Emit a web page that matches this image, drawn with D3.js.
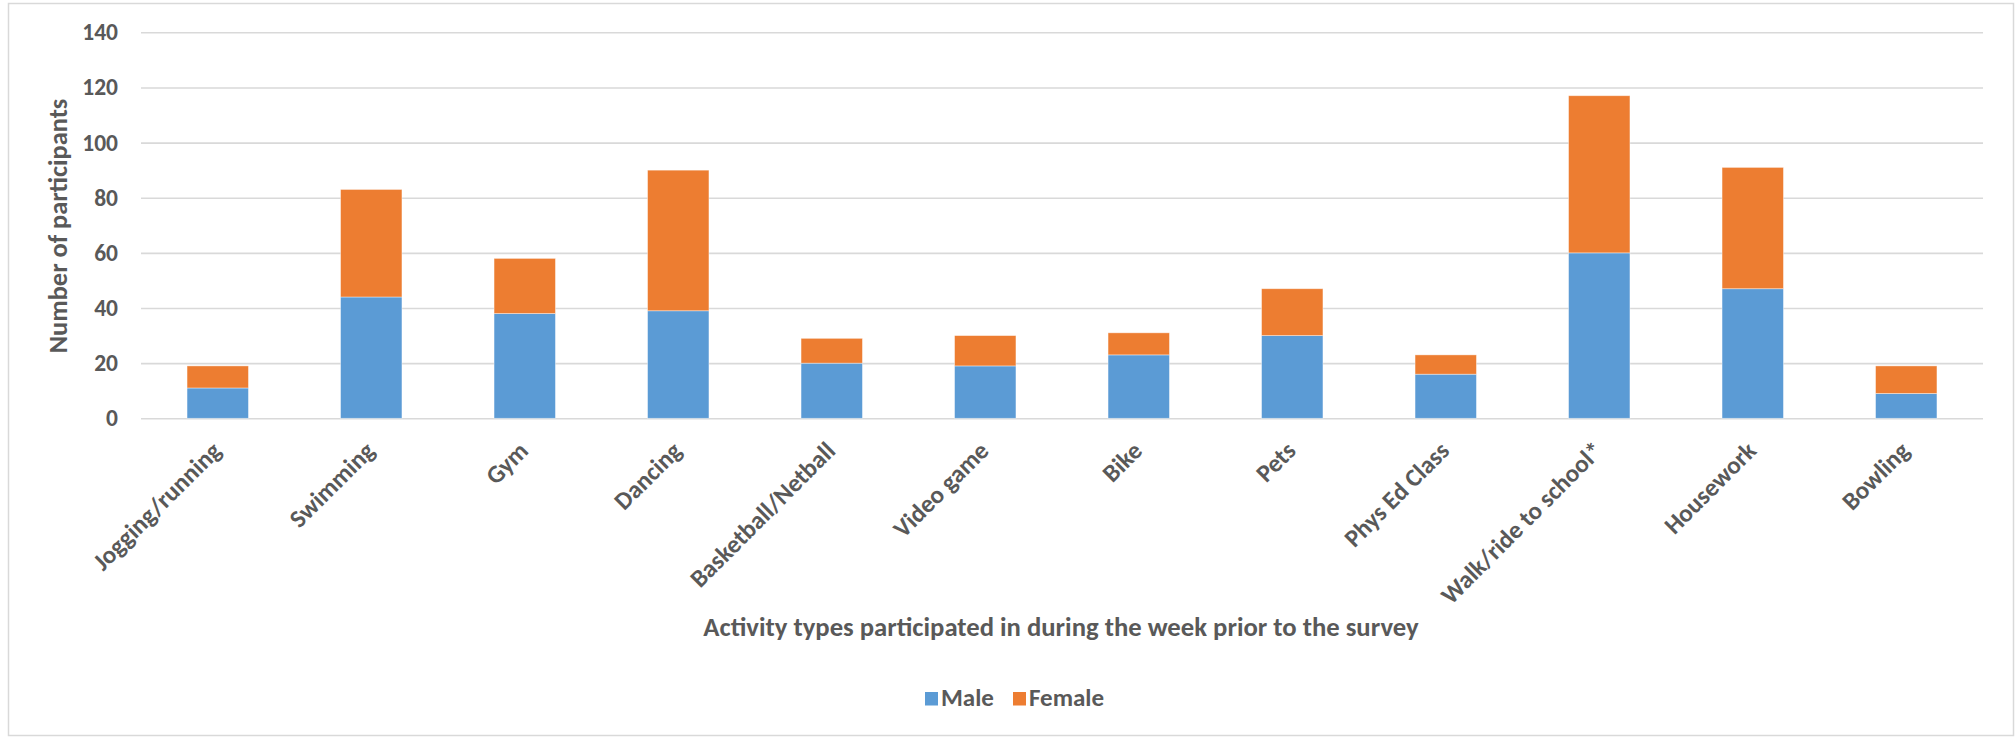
<!DOCTYPE html>
<html>
<head>
<meta charset="utf-8">
<script src="https://cdn.jsdelivr.net/npm/d3@7"></script>
<style>
  html, body { margin: 0; padding: 0; background: #fff; }
  svg { display: block; }
  text { font-family: Carlito, Calibri, Lato, sans-serif; fill: #595959; font-weight: bold; }
</style>
</head>
<body>
<svg id="chart" width="2016" height="737"></svg>
<script>
// Activity categories and participant counts by sex
const categories = ["Jogging/running", "Swimming", "Gym", "Dancing", "Basketball/Netball",
  "Video game", "Bike", "Pets", "Phys Ed Class", "Walk/ride to school*", "Housework", "Bowling"];
const male   = [11, 44, 38, 39, 20, 19, 23, 30, 16, 60, 47, 9];
const female = [8, 39, 20, 51, 9, 11, 8, 17, 7, 57, 44, 10];
const seriesNames = ["Male", "Female"];
const seriesColors = ["#5B9BD5", "#ED7D31"];
const yTicks = [0, 20, 40, 60, 80, 100, 120, 140];
const yTitle = "Number of participants";
const xTitle = "Activity types participated in during the week prior to the survey";

const plot = { left: 141, right: 1983, top: 32.3, bottom: 418.3 };

const svg = d3.select("#chart");

// outer chart frame
svg.append("rect")
  .attr("x", 8.5).attr("y", 3.5)
  .attr("width", 2005).attr("height", 732)
  .attr("fill", "#fff").attr("stroke", "#d9d9d9").attr("stroke-width", 1.5);

const x = d3.scaleBand().domain(categories)
  .range([plot.left, plot.right])
  .paddingInner(0.6).paddingOuter(0.3);
const y = d3.scaleLinear().domain([0, 140]).range([plot.bottom, plot.top]);

// value axis with gridlines
const yAxis = svg.append("g")
  .attr("transform", `translate(${plot.left},0)`)
  .call(d3.axisLeft(y).tickValues(yTicks).tickSize(-(plot.right - plot.left)).tickPadding(23));
yAxis.select(".domain").remove();
yAxis.selectAll(".tick line").attr("stroke", "#d9d9d9").attr("stroke-width", 1.6);
yAxis.selectAll(".tick text")
  .style("font-size", "23.5px").attr("fill", "#595959");

// stacked bars
const rows = categories.map((c, i) => ({ cat: c, Male: male[i], Female: female[i] }));
const stacked = d3.stack().keys(seriesNames)(rows);

svg.append("g").selectAll("g")
  .data(stacked).join("g")
  .attr("fill", (d, i) => seriesColors[i])
  .selectAll("rect")
  .data(d => d).join("rect")
  .attr("x", d => x(d.data.cat))
  .attr("width", x.bandwidth())
  .attr("y", d => y(d[1]))
  .attr("height", d => y(d[0]) - y(d[1]))
  .attr("stroke", "#fff").attr("stroke-opacity", 0.5).attr("stroke-width", 0.8);

// category axis with slanted labels
const xAxis = svg.append("g")
  .attr("transform", `translate(0,${plot.bottom})`)
  .call(d3.axisBottom(x).tickSize(0).tickPadding(0));
xAxis.select(".domain").remove();
xAxis.selectAll(".tick text")
  .style("font-size", "25px")
  .attr("fill", "#595959")
  .attr("text-anchor", "end")
  .attr("dy", 0).attr("y", 0)
  .attr("transform", "translate(5,34) rotate(-45)");

// axis titles
svg.append("text")
  .attr("transform", "translate(66.5,226) rotate(-90)")
  .attr("text-anchor", "middle")
  .style("font-size", "26.4px")
  .text(yTitle);

svg.append("text")
  .attr("x", 1061).attr("y", 635.5)
  .attr("text-anchor", "middle")
  .style("font-size", "26.7px")
  .text(xTitle);

// legend
const legend = svg.append("g");
const legendX = [925, 1013];
seriesNames.forEach((name, i) => {
  legend.append("rect")
    .attr("x", legendX[i]).attr("y", 692)
    .attr("width", 13).attr("height", 13.5)
    .attr("fill", seriesColors[i]);
  legend.append("text")
    .attr("x", legendX[i] + 16).attr("y", 706)
    .style("font-size", "25px")
    .text(name);
});
</script>
</body>
</html>
